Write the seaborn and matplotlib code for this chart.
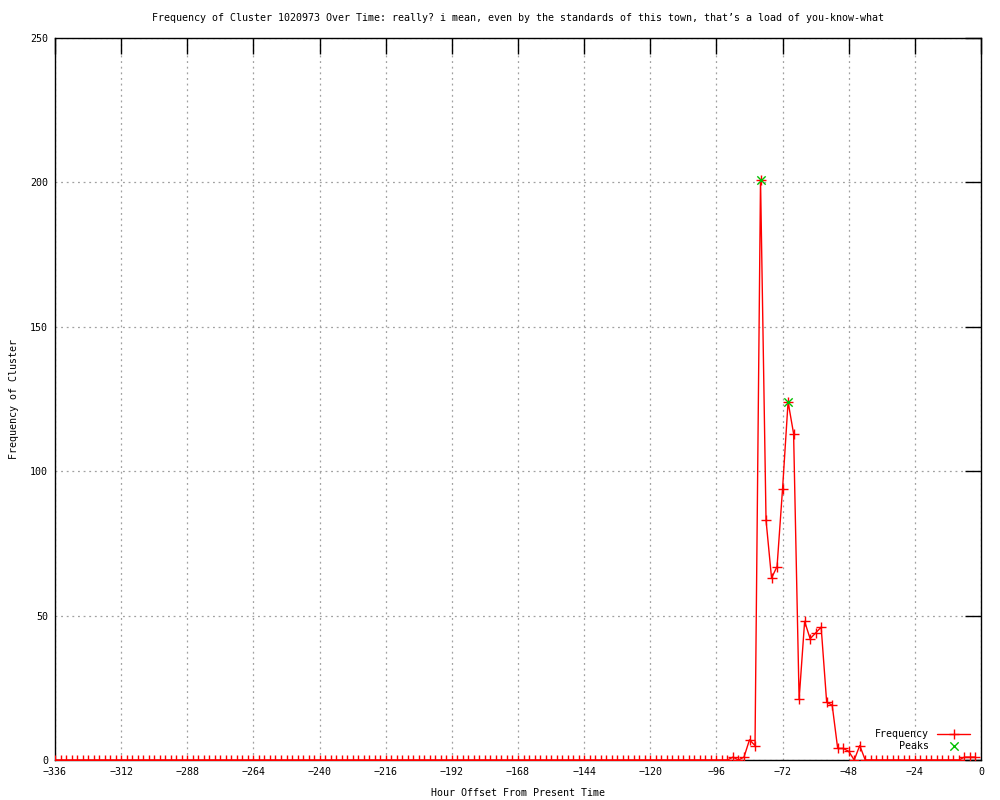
import numpy as np
import pandas as pd
import matplotlib
matplotlib.use("Agg")
import matplotlib.pyplot as plt
import seaborn as sns

# Datos (horas -336 .. -2, cada 2 horas)
horas = list(range(-336, 0, 2))
frecuencia = ([0] * 123
              + [1, 0, 1, 7, 5, 201, 83, 63, 67, 94, 124, 113, 21,
                 48, 42, 44, 46, 20, 19, 4, 4, 3, 0, 5, 0]
              + [0] * 17
              + [1, 1, 1])

picos_horas = [-80, -70]
picos_valores = [201, 124]

titulo = ("Frequency of Cluster 1020973 Over Time: really? i mean, even by the "
          "standards of this town, that\u2019s a load of you-know-what")

df = pd.DataFrame({"hora": horas, "frecuencia": frecuencia})
df_picos = pd.DataFrame({"hora": picos_horas, "frecuencia": picos_valores})

sns.set_style("white")
plt.rcParams["font.family"] = ["DejaVu Sans Mono", "DejaVu Sans"]
plt.rcParams["text.color"] = "black"
plt.rcParams["axes.labelcolor"] = "black"
fs = 7.2

fig = plt.figure(figsize=(10, 8), dpi=100)
ax = fig.add_axes([0.055, 0.05, 0.926, 0.9025])

sns.lineplot(x="hora", y="frecuencia", data=df, ax=ax, color="#ff0000",
             linewidth=1, marker="+", markersize=6.5, markeredgewidth=1,
             markeredgecolor="#ff0000", label="Frequency", zorder=3)
sns.scatterplot(x="hora", y="frecuencia", data=df_picos, ax=ax,
                color="#00c000", marker="x", s=36, linewidth=1,
                label="Peaks", zorder=4)

ax.set_xlim(-336, 0)
ax.set_ylim(0, 250)
ax.set_xticks(range(-336, 1, 24))
ax.set_yticks(range(0, 251, 50))
ax.tick_params(direction="in", length=11.5, width=1, top=True, right=True,
               labelsize=fs, colors="black", pad=5)
for s in ax.spines.values():
    s.set_color("black")
    s.set_linewidth(1)
ax.grid(True, linestyle=(0, (1.5, 3)), color="#a0a0a0", linewidth=0.9)

ax.set_title(titulo, fontsize=fs, pad=12, color="black")
ax.set_xlabel("Hour Offset From Present Time", fontsize=fs, labelpad=8)
ax.set_ylabel("Frequency of Cluster", fontsize=fs)
ax.yaxis.set_label_coords(-0.039, 0.5)

ax.legend(loc="lower right", bbox_to_anchor=(0.995, 0.004), frameon=False,
          markerfirst=False, fontsize=fs, handlelength=3.3, labelspacing=0.2,
          borderaxespad=0.2)

fig.savefig("out.png", dpi=100)
